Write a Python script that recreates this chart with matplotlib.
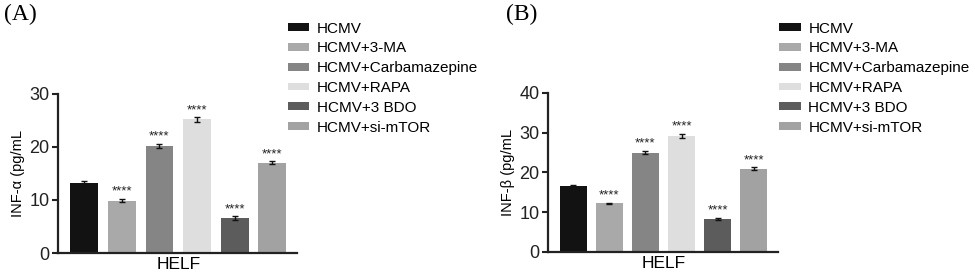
import matplotlib.pyplot as plt
from matplotlib.patches import Patch

groups = ['HCMV', 'HCMV+3-MA', 'HCMV+Carbamazepine', 'HCMV+RAPA', 'HCMV+3 BDO', 'HCMV+si-mTOR']
colors = ['#121212', '#a9a9a9', '#858585', '#dedede', '#5c5c5c', '#a2a2a2']

# INF-alpha (pg/mL)
alpha = [13.2, 9.9, 20.2, 25.2, 6.6, 17.0]
alpha_err = [0.3, 0.3, 0.4, 0.4, 0.3, 0.3]

# INF-beta (pg/mL)
beta = [16.6, 12.2, 25.0, 29.2, 8.3, 20.9]
beta_err = [0.3, 0.2, 0.4, 0.5, 0.3, 0.4]

stars = ['', '****', '****', '****', '****', '****']

plt.rcParams['font.family'] = ['Liberation Sans', 'DejaVu Sans']

fig = plt.figure(figsize=(9.75, 2.8), dpi=100)


def panel(rect, vals, errs, ymax, ylabel, tag, tagx, legx):
    ax = fig.add_axes(rect)
    x = list(range(len(vals)))
    ax.bar(x, vals, width=0.74, color=colors, yerr=errs, capsize=2.5,
           error_kw=dict(elinewidth=1, capthick=1, ecolor='#111111'))
    for xi, v, e, s in zip(x, vals, errs, stars):
        if s:
            ax.text(xi, v + e + ymax * 0.008, s, ha='center', va='bottom',
                    fontsize=9.5, color='#222222')
    ax.set_xlim(-0.7, 5.67)
    ax.set_ylim(0, ymax)
    ax.set_yticks(range(0, ymax + 1, 10))
    ax.set_xticks([2.5])
    ax.set_xticklabels(['HELF'], fontsize=12.5)
    ax.tick_params(axis='x', length=0, pad=3)
    ax.tick_params(axis='y', labelsize=13, width=1.5, length=4, pad=2, colors='#222222')
    ax.set_ylabel(ylabel, fontsize=10.5, labelpad=3)
    for sp in ['top', 'right']:
        ax.spines[sp].set_visible(False)
    for sp in ['left', 'bottom']:
        ax.spines[sp].set_linewidth(1.6)
        ax.spines[sp].set_color('#222222')
    handles = [Patch(facecolor=c, edgecolor='none') for c in colors]
    fig.legend(handles, groups, loc='upper left', bbox_to_anchor=(legx, 0.945),
               frameon=False, fontsize=11, handlelength=1.4, handleheight=0.4,
               labelspacing=0.38, handletextpad=0.5, borderaxespad=0)
    fig.text(tagx, 0.985, tag, fontsize=17, family='Liberation Serif', va='top')
    return ax


panel([0.0595, 0.0964, 0.2455, 0.568], alpha, alpha_err, 30, 'INF-α (pg/mL', '(A)', 0.004, 0.289)
panel([0.562, 0.1, 0.236, 0.568], beta, beta_err, 40, 'INF-β (pg/mL', '(B)', 0.519, 0.793)

fig.savefig('out.png', dpi=100)
